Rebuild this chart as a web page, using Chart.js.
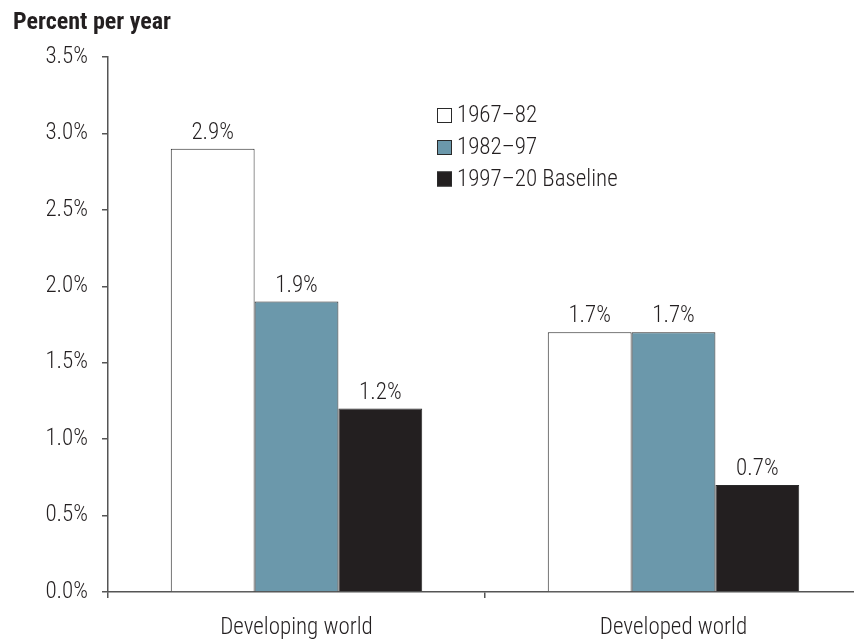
<!DOCTYPE html>
<html>
<head>
<meta charset="utf-8">
<title>Percent per year</title>
<script src="https://cdn.jsdelivr.net/npm/chart.js@4.4.1/dist/chart.umd.min.js"></script>
<style>
  html, body { margin: 0; padding: 0; background: #fff; overflow: hidden; }
  #wrap { width: 866px; height: 639px; }
</style>
</head>
<body>
<div id="wrap"><canvas id="c" width="866" height="639"></canvas></div>
<script>
// Growth rates, percent per year
const categories = ['Developing world', 'Developed world'];
const periods = ['1967\u201382', '1982\u201397', '1997\u201320 Baseline'];
const values1967_82 = [2.9, 1.7];
const values1982_97 = [1.9, 1.7];
const values1997_20 = [1.2, 0.7];
const yTicks = [0, 0.5, 1.0, 1.5, 2.0, 2.5, 3.0, 3.5];
const unitTitle = 'Percent per year';

const FONT = "'Roboto Condensed', 'Liberation Sans Narrow', 'Arial Narrow', Roboto, sans-serif";
const INK = '#231f20';
const AXIS = '#555555';

const fills = ['#ffffff', '#6b98ab', '#231f20'];
const seriesValues = [values1967_82, values1982_97, values1997_20];

const datasets = periods.map((p, i) => ({
  label: p,
  data: seriesValues[i],
  backgroundColor: fills[i],
  borderColor: '#2a2a2a',
  borderWidth: 1,
  borderSkipped: 'bottom',
  barPercentage: 1.0,
  categoryPercentage: 0.667
}));

// Value labels above each bar
const valueLabels = {
  id: 'valueLabels',
  afterDatasetsDraw(chart) {
    const ctx = chart.ctx;
    ctx.save();
    ctx.font = '300 23px ' + FONT;
    ctx.fillStyle = INK;
    ctx.textAlign = 'center';
    ctx.textBaseline = 'alphabetic';
    chart.data.datasets.forEach((ds, di) => {
      chart.getDatasetMeta(di).data.forEach((bar, i) => {
        ctx.fillText(ds.data[i].toFixed(1) + '%', bar.x, bar.y - 10);
      });
    });
    ctx.restore();
  }
};

// Unit title and boxed legend inside the plot
const annotations = {
  id: 'annotations',
  afterDraw(chart, args, opts) {
    const ctx = chart.ctx;
    ctx.save();
    ctx.fillStyle = INK;
    ctx.textAlign = 'left';
    ctx.textBaseline = 'alphabetic';
    ctx.font = 'bold 24px ' + FONT;
    ctx.fillText(unitTitle, opts.titleX, opts.titleY);

    ctx.font = '300 23px ' + FONT;
    ctx.textBaseline = 'middle';
    chart.data.datasets.forEach((ds, i) => {
      const cy = opts.legendY[i];
      const s = opts.box;
      ctx.fillStyle = ds.backgroundColor;
      ctx.fillRect(opts.legendX, cy - s / 2, s, s);
      ctx.strokeStyle = '#2a2a2a';
      ctx.lineWidth = 1;
      ctx.strokeRect(opts.legendX + 0.5, cy - s / 2 + 0.5, s - 1, s - 1);
      ctx.fillStyle = INK;
      ctx.fillText(ds.label, opts.legendX + s + 5, cy + 1);
    });
    ctx.restore();
  }
};

new Chart(document.getElementById('c'), {
  type: 'bar',
  data: { labels: categories, datasets },
  options: {
    responsive: false,
    animation: false,
    layout: { padding: { top: 57, right: 4, left: 0, bottom: 0 } },
    plugins: {
      legend: { display: false },
      tooltip: { enabled: false },
      annotations: { titleX: 13, titleY: 29, legendX: 437, legendY: [115.5, 147.5, 179], box: 15 }
    },
    scales: {
      x: {
        grid: { display: true, offset: true, drawOnChartArea: false, drawTicks: true, tickLength: 6, color: AXIS, lineWidth: 1.5 },
        border: { display: true, color: AXIS, width: 1.5 },
        ticks: { color: INK, font: { family: FONT, size: 23, weight: '300' }, padding: 16, maxRotation: 0 },
        afterFit(scale) { scale.height = 47; }
      },
      y: {
        min: 0,
        max: 3.5,
        afterBuildTicks(scale) { scale.ticks = yTicks.map(v => ({ value: v })); },
        grid: { display: true, drawOnChartArea: false, drawTicks: true, tickLength: 6, color: AXIS, lineWidth: 1.5 },
        border: { display: true, color: AXIS, width: 1.5 },
        ticks: {
          color: INK,
          font: { family: FONT, size: 23, weight: '300' },
          padding: 14,
          callback: v => Number(v).toFixed(1) + '%'
        },
        afterFit(scale) { scale.width = 108; }
      }
    }
  },
  plugins: [valueLabels, annotations]
});
</script>
</body>
</html>
